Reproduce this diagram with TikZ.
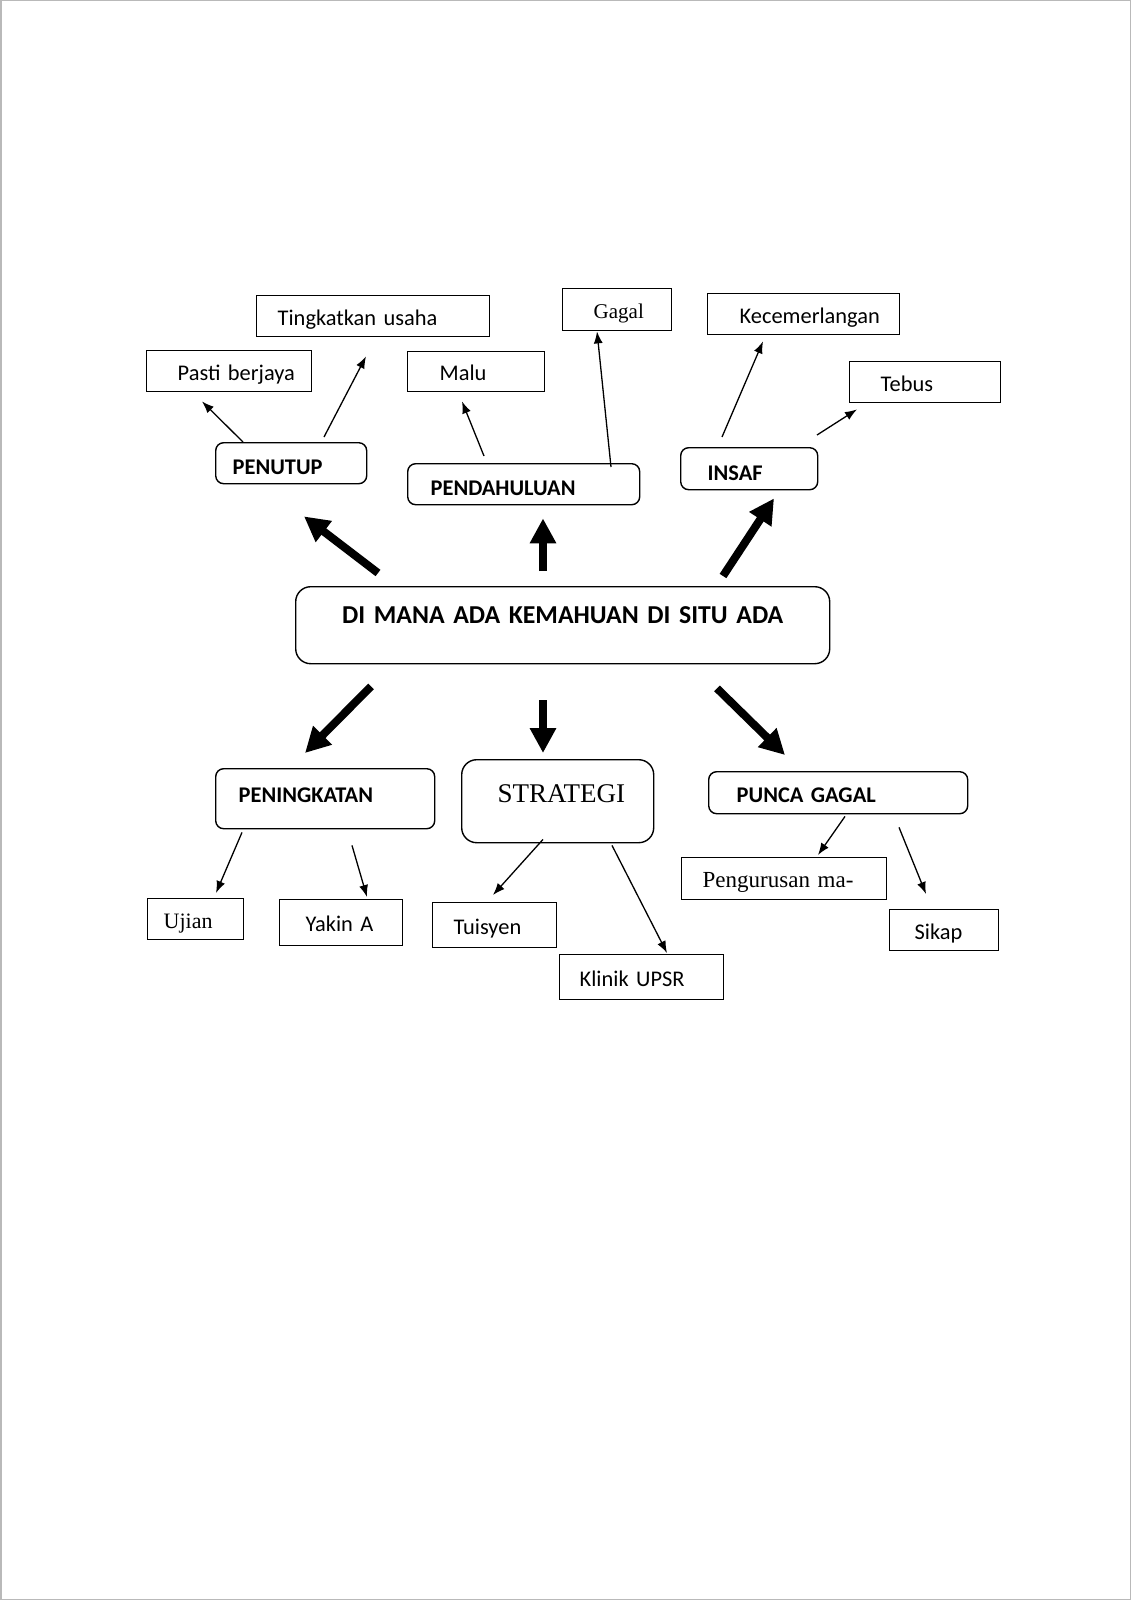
\documentclass[tikz,border=0pt]{standalone}
\usepackage{fontspec}
\setmainfont{Carlito}[WordSpace=0.9]
\newfontfamily\cambria{Liberation Serif}
\usetikzlibrary{arrows.meta,calc}

\begin{document}
\begin{tikzpicture}[x=1pt,y=-1pt,
    box/.style={draw,line width=1.4pt,anchor=north west,inner sep=0pt,align=left,
      text height=18pt,text depth=0pt,font=\fontsize{22.4}{26}\selectfont},
    rbox/.style={box,rounded corners=8pt,text height=23pt,
      font=\fontsize{22.4}{26}\selectfont\bfseries},
    sz/.style 2 args={minimum width=#1pt,text width=#1pt,minimum height=#2pt},
    serif/.style={font=\cambria\fontsize{#1}{#1}\selectfont},
    smallarrow/.style={line width=1.3pt,-{Latex[length=12pt,width=9pt]}},
    bigarrow/.style={line width=8pt,-{Triangle[length=25pt,width=25pt]}}]
  \useasboundingbox (0,0) rectangle (1131,1600);
  \draw[gray!55,line width=1.5pt] (0.75,0.75) rectangle (1130.25,1599.25);

  % top row
  \node[box,sz={233}{41}] (tingkat) at (256,295) {\hspace*{21pt}Tingkatkan usaha};
  \node[box,sz={165}{41}] (pasti) at (146,350) {\hspace*{31pt}Pasti berjaya};
  \node[box,sz={137}{40}] (malu) at (407,351) {\hspace*{32pt}Malu};
  \node[box,sz={109}{42},serif=21] (gagal) at (562,288) {\hspace*{31pt}Gagal};
  \node[box,sz={192}{41}] (kecem) at (707,293) {\hspace*{32pt}Kecemerlangan};
  \node[box,sz={151}{41}] (tebus) at (849,361) {\hspace*{31pt}Tebus};
  \node[rbox,sz={151}{41}] (penutup) at (215,442) {\hspace*{17pt}PENUTUP};
  \node[rbox,sz={232}{41}] (pendah) at (407,463) {\hspace*{23pt}PENDAHULUAN};
  \node[rbox,sz={137}{42}] (insaf) at (680,447) {\hspace*{27pt}INSAF};

  % centre
  \node[rbox,sz={534}{77},rounded corners=15pt,align=center,text height=0pt,text depth=3pt,
    font=\fontsize{25.8}{30}\selectfont\bfseries] (main) at (295,586) {DI MANA ADA KEMAHUAN DI SITU ADA};

  % bottom row
  \node[rbox,sz={219}{60},text height=7.4pt] (peningkatan) at (215,768) {\hspace*{23pt}PENINGKATAN};
  \node[rbox,sz={192}{83},rounded corners=15pt,text height=2.4pt,serif=27] (strategi) at (461,759) {\hspace*{36pt}STRATEGI};
  \node[rbox,sz={259}{42},text height=19.4pt] (punca) at (708,771) {\hspace*{28pt}PUNCA GAGAL};
  \node[box,sz={96}{41},serif=22] (ujian) at (147,898) {\hspace*{16pt}Ujian};
  \node[box,sz={123}{46}] (yakin) at (279,899) {\hspace*{26pt}Yakin A};
  \node[box,sz={124}{45}] (tuisyen) at (432,902) {\hspace*{21pt}Tuisyen};
  \node[box,sz={164}{45}] (klinik) at (559,954) {\hspace*{20pt}Klinik UPSR};
  \node[box,sz={205}{42},serif=23] (peng) at (681,857) {\hspace*{21pt}Pengurusan ma-};
  \node[box,sz={109}{41}] (sikap) at (889,909) {\hspace*{25pt}Sikap};

  % big arrows out of the centre
  \draw[bigarrow] ($(main.north west)+(83,-13)$) -- ($(penutup.south west)+(89,32)$);
  \draw[bigarrow] ($(main.north west)+(248,-15)$) -- ($(pendah.south west)+(136,13)$);
  \draw[bigarrow] ($(main.north west)+(428,-10)$) -- ($(insaf.south west)+(94,8)$);
  \draw[bigarrow] ($(main.south west)+(76,22)$) -- ($(peningkatan.north west)+(90,-15)$);
  \draw[bigarrow] ($(main.south west)+(248,36)$) -- ($(strategi.north west)+(82,-6)$);
  \draw[bigarrow] ($(main.south west)+(422,24)$) -- ($(punca.north west)+(77,-16)$);

  % small arrows, top
  \draw[smallarrow] ($(penutup.north west)+(28,0)$) -- ($(pasti.south west)+(56,9)$);
  \draw[smallarrow] ($(penutup.north west)+(109,-5)$) -- ($(tingkat.south west)+(110,19)$);
  \draw[smallarrow] ($(pendah.north west)+(77,-7)$) -- ($(malu.south west)+(55,9)$);
  \draw[smallarrow] ($(pendah.north west)+(204,4)$) -- ($(gagal.south west)+(35,0)$);
  \draw[smallarrow] ($(insaf.north west)+(42,-10)$) -- ($(kecem.south west)+(56,6)$);
  \draw[smallarrow] ($(insaf.north west)+(137,-12)$) -- ($(tebus.south west)+(8,6)$);

  % small arrows, bottom
  \draw[smallarrow] ($(peningkatan.south west)+(27,3)$) -- ($(ujian.north west)+(69,-5)$);
  \draw[smallarrow] ($(peningkatan.south west)+(137,16)$) -- ($(yakin.north west)+(88,-2)$);
  \draw[smallarrow] ($(strategi.south west)+(82,-4)$) -- ($(tuisyen.north west)+(61,-7)$);
  \draw[smallarrow] ($(strategi.south west)+(151,2)$) -- ($(klinik.north west)+(108,-1)$);
  \draw[smallarrow] ($(punca.south west)+(137,2)$) -- ($(peng.north west)+(137,-2)$);
  \draw[smallarrow] ($(punca.south west)+(191,13)$) -- ($(sikap.north west)+(37,-15)$);
\end{tikzpicture}
\end{document}
